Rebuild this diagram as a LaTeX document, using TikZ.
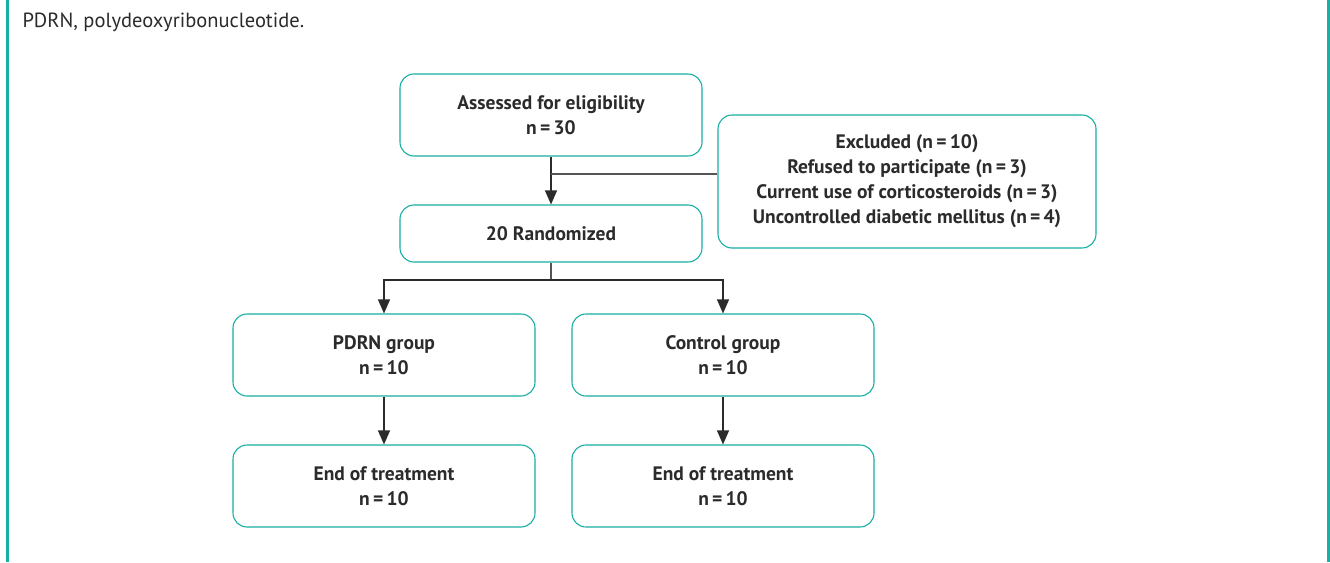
\documentclass[tikz,border=0pt]{standalone}
\usepackage{fontspec}
\setmainfont{PT Sans}
\usetikzlibrary{arrows.meta}
\definecolor{teal}{HTML}{1AAFA5}
\definecolor{ink}{HTML}{2B2B2B}
\definecolor{wire}{HTML}{555555}
\tikzset{
  flowbox/.style={draw=teal, line width=1.1pt, rounded corners=14pt, fill=white, align=center, text=ink, font=\fontsize{19.5}{25}\selectfont\bfseries, inner sep=0pt},
  conn/.style={draw=wire, line width=1.1pt},
  arr/.style={conn, -{Triangle[length=14pt,width=12pt]}, draw=ink},
}
\begin{document}
\begin{tikzpicture}[x=1pt,y=-1pt]
\useasboundingbox (0,0) rectangle (1330,562);
\fill[white] (0,0) rectangle (1330,562);
\draw[teal, line width=3pt] (7,0) -- (7,562);
\draw[teal, line width=3pt] (1328,0) -- (1328,562);
\node[anchor=west, text=ink, font=\fontsize{20.5}{24}\selectfont] (cap) at (19,22) {PDRN, polydeoxyribonucleotide.};

\node[flowbox, minimum width=302pt, minimum height=82pt] (assess) at (551,115) {Assessed for eligibility\\n\,=\,30};
\node[flowbox, minimum width=378pt, minimum height=133pt] (excl) at (907,181.5) {Excluded (n\,=\,10)\\Refused to participate (n\,=\,3)\\Current use of corticosteroids (n\,=\,3)\\Uncontrolled diabetic mellitus (n\,=\,4)};
\node[flowbox, minimum width=302pt, minimum height=57pt] (rand) at (551,233.5) {20 Randomized};
\node[flowbox, minimum width=302pt, minimum height=82pt] (pdrn) at (384,355) {PDRN group\\n\,=\,10};
\node[flowbox, minimum width=302pt, minimum height=82pt] (ctrl) at (723,355) {Control group\\n\,=\,10};
\node[flowbox, minimum width=302pt, minimum height=82pt] (end1) at (384,486) {End of treatment\\n\,=\,10};
\node[flowbox, minimum width=302pt, minimum height=82pt] (end2) at (723,486) {End of treatment\\n\,=\,10};

\coordinate (j1) at (551,174);
\coordinate (j2) at (551,280);
\draw[arr] (assess.south) -- (rand.north);
\draw[conn] (j1) -- (j1 -| excl.west);
\draw[conn] (rand.south) -- (j2);
\draw[arr] (j2) -| (pdrn.north);
\draw[arr] (j2) -| (ctrl.north);
\draw[arr] (pdrn.south) -- (end1.north);
\draw[arr] (ctrl.south) -- (end2.north);
\end{tikzpicture}
\end{document}
